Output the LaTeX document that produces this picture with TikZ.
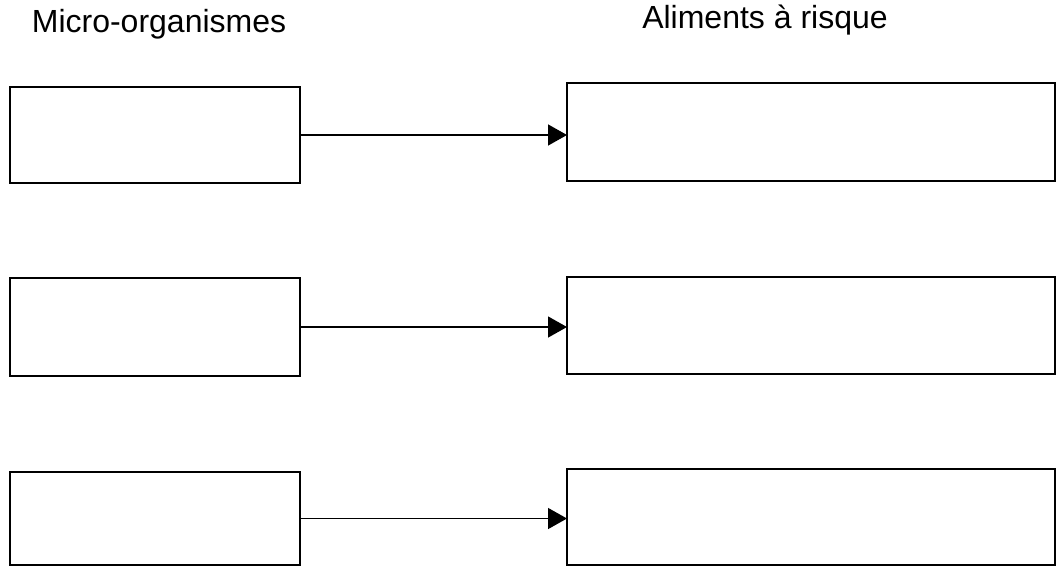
\documentclass[tikz,border=0pt]{standalone}
\usepackage{fontspec}
\setmainfont{Liberation Sans}
\usetikzlibrary{arrows.meta}
\tikzset{
  box/.style={draw=black, line width=1.6pt, rectangle, inner sep=0pt, outer sep=0pt, anchor=north west, fill=white},
  head/.style={anchor=base, inner sep=0pt, font=\fontsize{32}{38}\selectfont},
  link/.style={draw=black, line width=1.4pt, -{Triangle[length=19pt, width=21pt]}}
}
\begin{document}
\begin{tikzpicture}[x=1pt, y=-1pt]
  \useasboundingbox (0,0) rectangle (1057,566);
  % column headings
  \node[head] (hleft) at (159,32) {Micro-organismes};
  \node[head] (hright) at (765,28) {Aliments à risque};
  % left column
  \node[box, minimum width=290pt, minimum height=96pt] (l1) at (10,87) {};
  \node[box, minimum width=290pt, minimum height=98pt] (l2) at (10,278) {};
  \node[box, minimum width=290pt, minimum height=93pt] (l3) at (10,472) {};
  % right column
  \node[box, minimum width=488pt, minimum height=98pt] (r1) at (567,83) {};
  \node[box, minimum width=488pt, minimum height=97pt] (r2) at (567,277) {};
  \node[box, minimum width=488pt, minimum height=96pt] (r3) at (567,469) {};
  % links
  \draw[link] (l1.east) -- (l1.east -| r1.west);
  \draw[link] (l2.east) -- (l2.east -| r2.west);
  \draw[link] (l3.east) -- (l3.east -| r3.west);
\end{tikzpicture}
\end{document}
